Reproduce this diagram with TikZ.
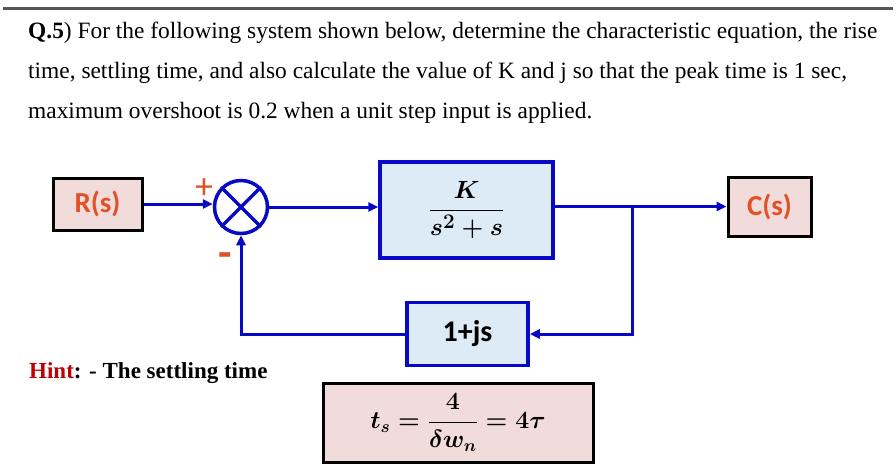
\documentclass[tikz,border=0pt]{standalone}
\usepackage{amsmath}
\usepackage{fontspec}
\setmainfont{Liberation Serif}
\newfontfamily\labelfont{Carlito}
\usepackage{xcolor}
\definecolor{lineblue}{RGB}{8, 8, 200}
\definecolor{boxblue}{RGB}{221, 235, 247}
\definecolor{boxpink}{RGB}{242, 220, 219}
\definecolor{labelorange}{RGB}{226, 80, 40}
\definecolor{hintred}{RGB}{192, 0, 0}
\definecolor{rulegray}{RGB}{85, 85, 85}
\usepackage{tikz}
\usetikzlibrary{
    arrows.meta,
    positioning,
    calc
}

\begin{document}
\begin{tikzpicture}[
    x=1pt, y=-1pt,
    >={Triangle[length=10pt, width=9pt]},
    signalbox/.style={draw=black, line width=3pt, fill=boxpink, inner sep=0pt, text=labelorange, font=\labelfont\bfseries\fontsize{29}{29}\selectfont},
    blockbox/.style={draw=lineblue, line width=3.5pt, fill=boxblue, inner sep=0pt},
    mathbox/.style={font=\fontsize{28}{30}\selectfont\boldmath},
    sumnode/.style={draw=lineblue, line width=3.5pt, circle, minimum size=53pt, inner sep=0pt},
    signmark/.style={text=labelorange, inner sep=0pt, font=\labelfont\fontsize{36}{36}\selectfont},
    sig/.style={draw=lineblue, line width=3pt, ->}
]
\useasboundingbox (0,0) rectangle (896,469);

% ==================== QUESTION TEXT ====================
\draw[rulegray, line width=3pt] (3,8) -- (893,8);
\node[anchor=north west, align=left, inner sep=0pt, font=\fontsize{23.4}{40}\selectfont] (question) at (28,22) {
    \textbf{Q.5}) For the following system shown below, determine the characteristic equation, the rise\\
    time, settling time, and also calculate the value of K and j so that the peak time is 1 sec,\\
    maximum overshoot is 0.2 when a unit step input is applied.
};

% ==================== FORWARD PATH ====================
\node[signalbox, minimum width=89pt, minimum height=52pt] (rin) at (97.5,204) {R(s)};
\node[sumnode] (sum) at (241,207) {};
\draw[lineblue, line width=3.5pt] (sum.north west) -- (sum.south east);
\draw[lineblue, line width=3.5pt] (sum.north east) -- (sum.south west);
\node[signmark] (plus) at (204,189) {+};
\node[signmark, font=\labelfont\bfseries\fontsize{44}{44}\selectfont] (minus) at (225,260) {-};

\node[blockbox, mathbox, minimum width=173pt, minimum height=96pt] (plant) at (466.5,210) {$\dfrac{K}{s^{2}+s}$};
\node[signalbox, minimum width=83pt, minimum height=59pt] (cout) at (769.5,206.5) {C(s)};

\draw[sig] (rin.east) -- (rin.east -| sum.west);
\draw[sig] (sum.east) -- (sum.east -| plant.west);
\draw[sig] (plant.east |- cout.west) -- (cout.west);

% ==================== FEEDBACK PATH ====================
\coordinate (tap) at (632,206.5);
\node[blockbox, minimum width=121pt, minimum height=63pt, font=\labelfont\bfseries\fontsize{30}{30}\selectfont] (feedback) at (467.5,334) {1+js};
\draw[sig] (tap) |- (feedback.east);
\draw[sig] (feedback.west) -| (sum.south);

% ==================== HINT ====================
\node[anchor=base west, inner sep=0pt, font=\bfseries\fontsize{23}{23}\selectfont] (hint) at (29,378) {\textcolor{hintred}{Hint}: - The settling time};
\node[draw=black, line width=3pt, fill=boxpink, minimum width=270pt, minimum height=79pt, inner sep=0pt, font=\fontsize{23}{28}\selectfont\boldmath] (settle) at (458,422.5) {$t_{s}=\dfrac{4}{\delta w_{n}}=4\tau$};

\end{tikzpicture}
\end{document}
